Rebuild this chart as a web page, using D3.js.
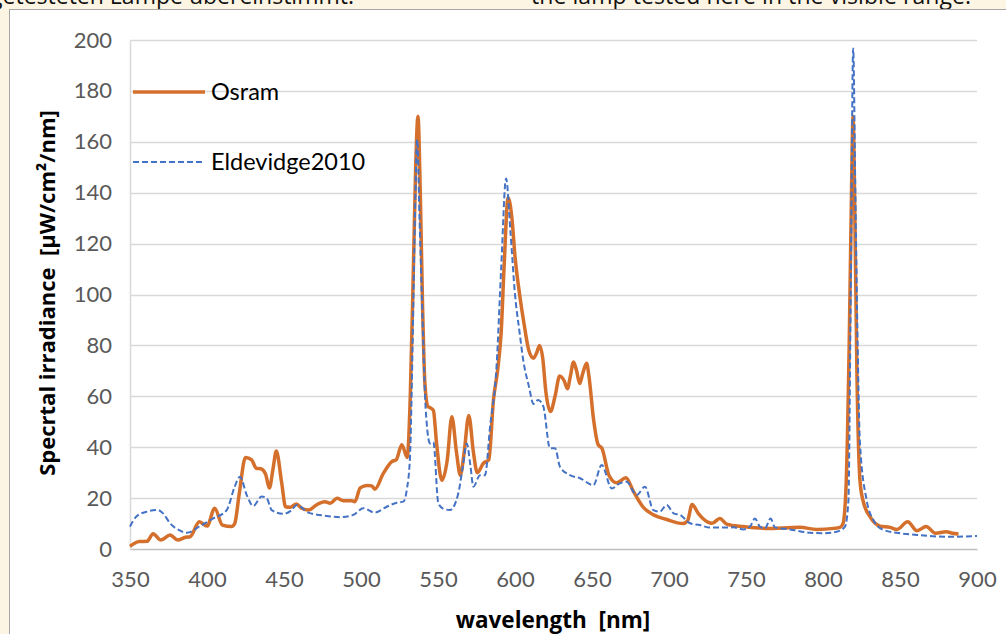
<!DOCTYPE html>
<html>
<head>
<meta charset="utf-8">
<script src="https://cdn.jsdelivr.net/npm/d3@7"></script>
<style>
  body { margin: 0; background: #fdf5e3; overflow: hidden; }
  svg text { white-space: pre; }
</style>
</head>
<body>
<svg id="chart" width="1006" height="634"></svg>
<script>
// spectra: wavelength [nm] and irradiance [µW/cm²/nm]
var osramNm = [350,356,361,365,370,376,381,386,389,395,400,405,410,416,418,421,425,429,432,435,438,440.5,443,445,448.5,451,454,458,461.5,466,471,476.5,480,484.5,488.5,494,496,499.5,504,507,509,514.5,520,523,526.5,530,532,534,535.5,537,538.5,540,541.5,543.5,545,547,549,552.5,556,559,562,564.5,567,570,573,575.5,579.5,583,586,589,591,593,595.5,598,600,603,606,609,612,614,616,618,620,623,626,629,632,634,636,638,640,642,644,646.5,648,651,654,656.5,661,666,672,677,683,690,698,709,712,715,719,722,728,733,737.5,748,763,785,796,807,811,813,815,817,818.5,819.5,820.5,822,824,826,830.5,837,843.5,848,855,861,867,873,880,884,888];
var osramVal = [1,2.9,3,6,3.5,5.5,3.5,4.6,4.8,10.7,9,16,9.4,8.8,10,22,36,35,31.7,31.5,29.5,24,32,38.5,26,16.6,16.4,17.7,16,15.3,17.3,18.6,18,19.9,19,19,18.6,24,25,24.8,23.5,29.7,34.3,35.2,41,36,60,110,150,170,140,95,65,56,55.5,54.5,42,27,35,52,38,29,38,52.5,38,30,33.7,35,58.5,71.6,85,112,138,130,115,100,88,78,75,77,80,75,62,54,60,68,66,63,68,73.5,70,65,69,73,68,51,41,39.5,29,26,28,22.5,16.6,13.4,11.7,10,11,17.5,14,12,10.1,12,9.8,8.8,8.1,8.5,7.7,8.1,8.5,10,25,80,140,170,140,70,27,19,12.7,9,8.5,7.7,10.7,7.2,8.8,6.2,6.8,6.2,5.9];

var eldNm = [350,354,361,368,371.5,376,382.5,387,395.5,404,412.8,418,421.4,425.8,430,435.5,438.8,442,449.6,455,458.3,465.8,477.7,486.4,495,501.5,509,516.7,523.2,527.5,529.7,531.8,533.5,535,536.5,538,540,542,544.8,547,550.2,553,557.8,563.2,566,568.7,571,573,577.3,580.5,583.8,588,591,594.2,597,600,603,605.4,609,612,615,618.4,622.7,626,629.2,635.7,642.2,650.9,656.3,662.8,668,672.5,679,684.4,689.8,694,698.5,703,707.2,713.7,720,726.6,741.8,748.3,752.6,755.8,759,762.3,766,768.8,778.6,791.6,800.2,808.9,814.3,816.5,818,819.6,821,822.5,824,828.4,832.7,839.2,850,860.9,882.5,900];
var eldVal = [8.8,12.7,14.7,15.3,14,10.1,7.2,6.4,9,12,15.3,24.5,28.4,21.2,16.9,20.6,19.9,15.3,13.8,15.3,17.3,14.3,13,12.5,13.4,16,14.3,16.6,18.2,18.6,23.2,36,80,130,161,130,90,55,41.5,42,18,16,15.3,21.9,32,41.5,33,24.5,29,29,48,71.6,110,145.6,125,100,85,74,64,57,58.5,56,39.6,39.6,32.3,29,27.8,25.1,33,23.8,25.8,26.4,21.2,24.5,15.3,14.7,17.3,14,13.4,10.1,9.4,8.4,8.5,7.7,8.8,12,8.8,8.1,12,8.5,7.7,6.4,6.2,6.8,8.8,19,100,196.7,140,80,41.5,19,11.4,7.5,6.2,5.5,4.8,5.1];

var xTicks = [350,400,450,500,550,600,650,700,750,800,850,900];
var yTicks = [0,20,40,60,80,100,120,140,160,180,200];
var seriesNames = ["Osram", "Eldevidge2010"];

var svg = d3.select("#chart");
var font = "Lato, 'Open Sans', sans-serif";

// cropped page text above the chart box
var leftNote = svg.append("text").attr("y", 4)
  .style("font-family", "'Open Sans', sans-serif").style("font-size", "23px").attr("fill", "#111")
  .text("getesteten Lampe übereinstimmt.");
leftNote.attr("x", 354 - leftNote.node().getComputedTextLength());
svg.append("text").attr("x", 531).attr("y", 4)
  .style("font-family", "'Open Sans', sans-serif").style("font-size", "23px").attr("fill", "#111")
  .attr("textLength", 440)
  .text("the lamp tested here in the visible range.");

// white chart box
svg.append("rect")
  .attr("x", 9.5).attr("y", 9.5).attr("width", 1010).attr("height", 640)
  .attr("fill", "#fff").attr("stroke", "#a6a6a6").attr("stroke-width", 1);

var x = d3.scaleLinear().domain([350, 900]).range([130, 977]);
var y = d3.scaleLinear().domain([0, 200]).range([549, 40]);

// gridlines
svg.append("g").selectAll("line")
  .data(yTicks.filter(function(d) { return d > 0; }))
  .enter().append("line")
  .attr("x1", x(350)).attr("x2", x(900))
  .attr("y1", function(d) { return Math.round(y(d)) + 0.5; })
  .attr("y2", function(d) { return Math.round(y(d)) + 0.5; })
  .attr("stroke", "#d9d9d9").attr("stroke-width", 1.5);

// axes
var xAxis = svg.append("g").attr("transform", "translate(0," + y(0) + ")")
  .call(d3.axisBottom(x).tickValues(xTicks).tickSize(0).tickPadding(22));
var yAxis = svg.append("g").attr("transform", "translate(" + x(350) + ",0)")
  .call(d3.axisLeft(y).tickValues(yTicks).tickSize(0).tickPadding(18));

xAxis.select(".domain").attr("stroke", "#bfbfbf").attr("stroke-width", 1.5);
yAxis.select(".domain").attr("stroke", "#d9d9d9").attr("stroke-width", 1.5);
[xAxis, yAxis].forEach(function(a) {
  a.selectAll("text").style("font-family", font).style("font-size", "22px").attr("fill", "#595959");
});

// axis titles
svg.append("text")
  .attr("x", 553).attr("y", 628).attr("text-anchor", "middle")
  .style("font-family", "'Open Sans', sans-serif").style("font-size", "22.5px").style("font-weight", "bold")
  .text("wavelength  [nm]");
svg.append("text")
  .attr("transform", "translate(55,293) rotate(-90)").attr("text-anchor", "middle")
  .style("font-family", "'Open Sans', sans-serif").style("font-size", "22px").style("font-weight", "bold")
  .text("Specrtal irradiance  [µW/cm²/nm]");

var line = d3.line()
  .x(function(d) { return x(d[0]); })
  .y(function(d) { return y(d[1]); })
  .curve(d3.curveMonotoneX);

var osram = d3.zip(osramNm, osramVal);
var eld = d3.zip(eldNm, eldVal);

svg.append("path").datum(osram)
  .attr("d", line).attr("fill", "none")
  .attr("stroke", "#d4702c").attr("stroke-width", 3.5).attr("stroke-linejoin", "round");

svg.append("path").datum(eld)
  .attr("d", line).attr("fill", "none")
  .attr("stroke", "#4472c4").attr("stroke-width", 2).attr("stroke-dasharray", "6,3");

// legend
var legend = svg.append("g");
legend.append("line").attr("x1", 133).attr("x2", 205).attr("y1", 92).attr("y2", 92)
  .attr("stroke", "#d4702c").attr("stroke-width", 3.5);
legend.append("text").attr("x", 211).attr("y", 100)
  .style("font-family", font).style("font-size", "23.5px").attr("fill", "#000").text(seriesNames[0]);
legend.append("line").attr("x1", 133).attr("x2", 205).attr("y1", 162).attr("y2", 162)
  .attr("stroke", "#4472c4").attr("stroke-width", 2).attr("stroke-dasharray", "6,3");
legend.append("text").attr("x", 211).attr("y", 170)
  .style("font-family", font).style("font-size", "23.5px").attr("fill", "#000").text(seriesNames[1]);
</script>
</body>
</html>
